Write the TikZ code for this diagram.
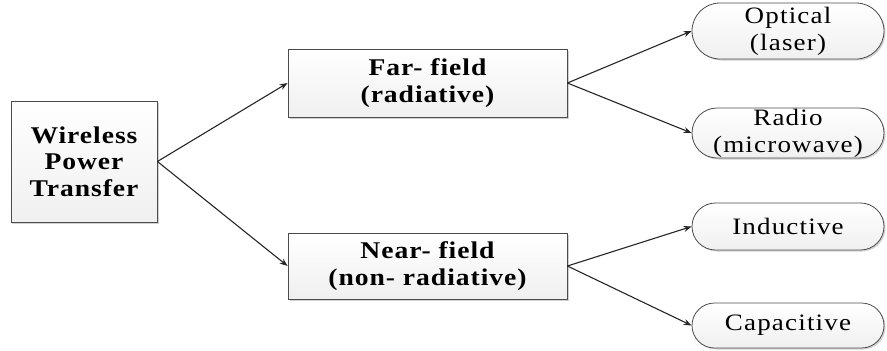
\documentclass[tikz,border=0pt]{standalone}
\usepackage{fontspec}
\setmainfont{Liberation Serif}
\newfontfamily\boxfont[FakeStretch=1.15,LetterSpace=4]{Liberation Serif}
\newfontfamily\ovalfont[FakeStretch=1.15,LetterSpace=5]{Liberation Serif}
\usetikzlibrary{arrows.meta,shapes.misc,shadows}
\tikzset{
  boxnode/.style={draw=gray!60!black, line width=0.8bp, rectangle, align=center,
    top color=white, bottom color=gray!12,
    drop shadow={shadow xshift=1.5bp, shadow yshift=-1.5bp, fill=gray!45, opacity=0.8},
    font=\boxfont\bfseries\fontsize{24bp}{26.5bp}\selectfont, inner sep=0pt},
  ovalnode/.style={draw=gray!60!black, line width=0.8bp, rounded rectangle, align=center,
    top color=white, bottom color=gray!12,
    drop shadow={shadow xshift=1.5bp, shadow yshift=-1.5bp, fill=gray!45, opacity=0.8},
    minimum width=192bp, inner sep=0pt,
    font=\ovalfont\fontsize{23.5bp}{27bp}\selectfont},
  conn/.style={draw=gray!30!black, line width=1.1bp, -{Stealth[length=8bp,width=6bp]}}
}
\begin{document}
\begin{tikzpicture}[x=1bp,y=-1bp]
\useasboundingbox (0,0) rectangle (887,350);
\node[boxnode, minimum width=146bp, minimum height=121bp] (wpt) at (84,161.5) {Wireless\\Power\\Transfer};
\node[boxnode, minimum width=279bp, minimum height=68bp] (far) at (427.5,83) {Far- field\\(radiative)};
\node[boxnode, minimum width=279bp, minimum height=66bp] (near) at (427.5,266) {Near- field\\(non- radiative)};
\node[ovalnode, minimum height=56bp] (opt) at (788,31) {Optical\\(laser)};
\node[ovalnode, minimum height=50bp] (rad) at (788,133) {Radio\\(microwave)};
\node[ovalnode, minimum height=47bp] (ind) at (788,226.5) {Inductive};
\node[ovalnode, minimum height=45bp] (cap) at (788,325.5) {Capacitive};
\draw[conn] (wpt.east) -- (far.west);
\draw[conn] (wpt.east) -- (near.west);
\draw[conn] (far.east) -- (opt.west);
\draw[conn] (far.east) -- (rad.west);
\draw[conn] (near.east) -- (ind.west);
\draw[conn] (near.east) -- (cap.west);
\end{tikzpicture}
\end{document}
